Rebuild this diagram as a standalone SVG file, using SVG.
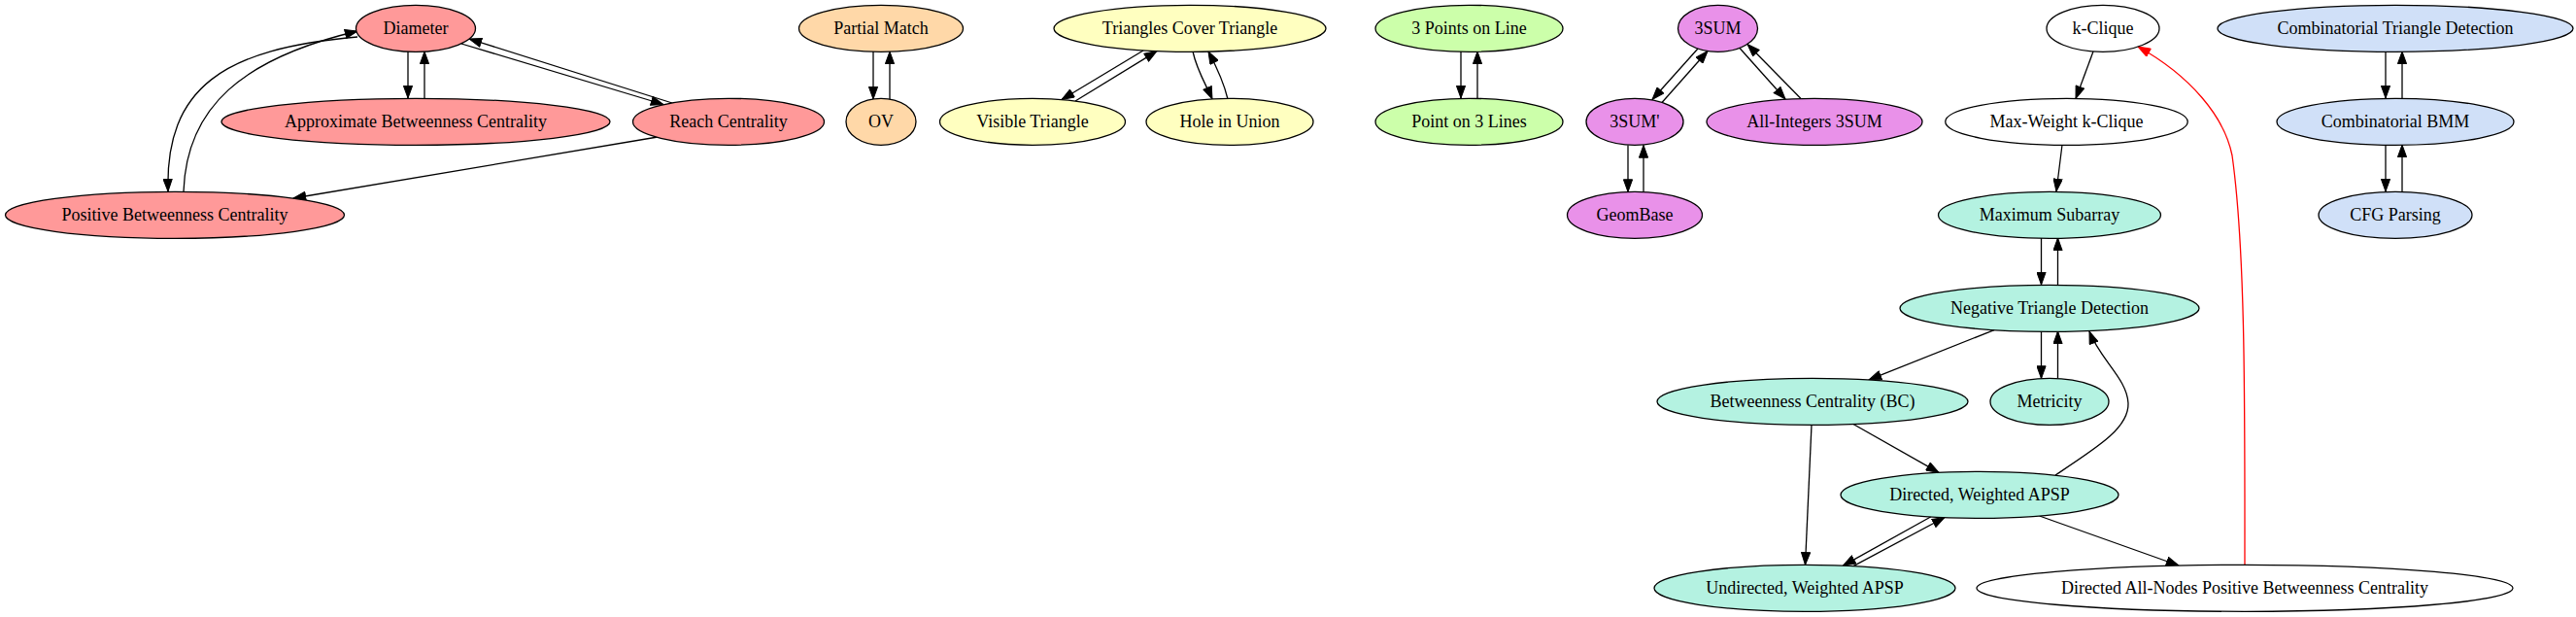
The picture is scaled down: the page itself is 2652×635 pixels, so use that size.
<svg xmlns="http://www.w3.org/2000/svg" width="2652" height="635" viewBox="0 0 2652 635">
<style>
  .n ellipse { stroke: #000; stroke-width: 1.3; }
  .n text { font-family: "Liberation Serif", "Times New Roman", serif; font-size: 18px; text-anchor: middle; fill: #000; }
  .red ellipse { fill: #FF9999; }
  .org ellipse { fill: #FFD8A8; }
  .yel ellipse { fill: #FFFFC0; }
  .grn ellipse { fill: #CCFFAA; }
  .pur ellipse { fill: #E991E9; }
  .wht ellipse { fill: #FFFFFF; }
  .tea ellipse { fill: #B4F2E1; }
  .blu ellipse { fill: #D0E0F8; }
  .e { fill: none; stroke: #000; stroke-width: 1.3; marker-end: url(#arr); }
  .e.r { stroke: #FF0000; marker-end: url(#arrR); }
</style>
<defs>
  <marker id="arr" markerUnits="userSpaceOnUse" viewBox="0 0 14 10" markerWidth="14" markerHeight="10" refX="13.3" refY="5" orient="auto">
    <path d="M0.6,0.4 L13.3,5 L0.6,9.6 Z" fill="#000" stroke="#000" stroke-width="1"/>
  </marker>
  <marker id="arrR" markerUnits="userSpaceOnUse" viewBox="0 0 14 10" markerWidth="14" markerHeight="10" refX="13.3" refY="5" orient="auto">
    <path d="M0.6,0.4 L13.3,5 L0.6,9.6 Z" fill="#FF0000" stroke="#FF0000" stroke-width="1"/>
  </marker>
</defs>
<rect width="2652" height="635" fill="#FFFFFF"/>

<g id="edges">
  <path class="e" d="M420,53 L420,101"/>
  <path class="e" d="M437,101 L437,53"/>
  <path class="e" d="M475,45 L683,107.5"/>
  <path class="e" d="M692,106 L483,40"/>
  <path class="e" d="M368,38 C230,50 170,90 173,197"/>
  <path class="e" d="M189,197 C192,110 250,60 368,32"/>
  <path class="e" d="M677,141 L302,204"/>

  <path class="e" d="M899,53 L899,102"/>
  <path class="e" d="M916,102 L916,53"/>

  <path class="e" d="M1177,52 L1093,102.5"/>
  <path class="e" d="M1107,104 L1191,52.6"/>
  <path class="e" d="M1228,53 C1232,72 1242,88 1248,102"/>
  <path class="e" d="M1264,102 C1260,85 1252,68 1244,53"/>

  <path class="e" d="M1504,53 L1504,101"/>
  <path class="e" d="M1521,101 L1521,53"/>

  <path class="e" d="M1748,50 L1701,102.5"/>
  <path class="e" d="M1711,105.5 L1758,52.5"/>
  <path class="e" d="M1791,49.5 L1838,102"/>
  <path class="e" d="M1854,101.5 L1799,45.5"/>
  <path class="e" d="M1676,149.5 L1676,197.5"/>
  <path class="e" d="M1692,197.5 L1692,149.5"/>

  <path class="e" d="M2155,53 L2137,101.4"/>
  <path class="e r" d="M2311,581 C2311,420 2312,260 2298,160 C2290,120 2255,78 2201,48"/>

  <path class="e" d="M2456,53 L2456,101"/>
  <path class="e" d="M2473,101 L2473,53"/>
  <path class="e" d="M2456,149 L2456,197"/>
  <path class="e" d="M2473,197 L2473,149"/>

  <path class="e" d="M2123,149 L2117,197"/>
  <path class="e" d="M2101.5,245 L2101.5,293"/>
  <path class="e" d="M2118.5,293 L2118.5,245"/>
  <path class="e" d="M2053,339.6 L1924,390.9"/>
  <path class="e" d="M2101.5,341 L2101.5,389.5"/>
  <path class="e" d="M2118.5,389.5 L2118.5,341"/>
  <path class="e" d="M2116,489 C2160,460 2192,440 2191,415 C2190,390 2162,370 2151,341"/>
  <path class="e" d="M1908,436.5 L1996,486.4"/>
  <path class="e" d="M1865,437.3 L1858.5,581.3"/>
  <path class="e" d="M1988,531.8 L1897.5,582.1"/>
  <path class="e" d="M1908,582.6 L2002,532.5"/>
  <path class="e" d="M2099.6,531 L2243,582"/>
</g>

<g id="diameter" class="n red"><ellipse cx="428" cy="29.3" rx="61.5" ry="24"/><text x="428" y="35.3">Diameter</text></g>
<g id="approx-bc" class="n red"><ellipse cx="428" cy="125.3" rx="200" ry="24"/><text x="428" y="131.3">Approximate Betweenness Centrality</text></g>
<g id="reach-centrality" class="n red"><ellipse cx="750" cy="125.3" rx="98.5" ry="24"/><text x="750" y="131.3">Reach Centrality</text></g>
<g id="positive-bc" class="n red"><ellipse cx="180" cy="221.3" rx="174.5" ry="24"/><text x="180" y="227.3">Positive Betweenness Centrality</text></g>

<g id="partial-match" class="n org"><ellipse cx="907" cy="29.3" rx="84.5" ry="24"/><text x="907" y="35.3">Partial Match</text></g>
<g id="ov" class="n org"><ellipse cx="907" cy="125.3" rx="36" ry="24"/><text x="907" y="131.3">OV</text></g>

<g id="triangles-cover-triangle" class="n yel"><ellipse cx="1225" cy="29.3" rx="140" ry="24"/><text x="1225" y="35.3">Triangles Cover Triangle</text></g>
<g id="visible-triangle" class="n yel"><ellipse cx="1063" cy="125.3" rx="95.5" ry="24"/><text x="1063" y="131.3">Visible Triangle</text></g>
<g id="hole-in-union" class="n yel"><ellipse cx="1266" cy="125.3" rx="86" ry="24"/><text x="1266" y="131.3">Hole in Union</text></g>

<g id="three-points-on-line" class="n grn"><ellipse cx="1512.5" cy="29.3" rx="96.5" ry="24"/><text x="1512.5" y="35.3">3 Points on Line</text></g>
<g id="point-on-three-lines" class="n grn"><ellipse cx="1512.5" cy="125.3" rx="96.5" ry="24"/><text x="1512.5" y="131.3">Point on 3 Lines</text></g>

<g id="threesum" class="n pur"><ellipse cx="1768.5" cy="29.3" rx="41" ry="24"/><text x="1768.5" y="35.3">3SUM</text></g>
<g id="threesum-prime" class="n pur"><ellipse cx="1683" cy="125.3" rx="50" ry="24"/><text x="1683" y="131.3">3SUM'</text></g>
<g id="all-integers-3sum" class="n pur"><ellipse cx="1868" cy="125.3" rx="111" ry="24"/><text x="1868" y="131.3">All-Integers 3SUM</text></g>
<g id="geombase" class="n pur"><ellipse cx="1683" cy="221.3" rx="69.5" ry="24"/><text x="1683" y="227.3">GeomBase</text></g>

<g id="k-clique" class="n wht"><ellipse cx="2165" cy="29.3" rx="58" ry="24"/><text x="2165" y="35.3">k-Clique</text></g>
<g id="max-weight-k-clique" class="n wht"><ellipse cx="2127.5" cy="125.3" rx="124.75" ry="24"/><text x="2127.5" y="131.3">Max-Weight k-Clique</text></g>

<g id="comb-triangle-detection" class="n blu"><ellipse cx="2466" cy="29.3" rx="183" ry="24"/><text x="2466" y="35.3">Combinatorial Triangle Detection</text></g>
<g id="comb-bmm" class="n blu"><ellipse cx="2466" cy="125.3" rx="122" ry="24"/><text x="2466" y="131.3">Combinatorial BMM</text></g>
<g id="cfg-parsing" class="n blu"><ellipse cx="2466" cy="221.3" rx="79" ry="24"/><text x="2466" y="227.3">CFG Parsing</text></g>

<g id="maximum-subarray" class="n tea"><ellipse cx="2110" cy="221.3" rx="114.5" ry="24"/><text x="2110" y="227.3">Maximum Subarray</text></g>
<g id="negative-triangle-detection" class="n tea"><ellipse cx="2110" cy="317.3" rx="154" ry="24"/><text x="2110" y="323.3">Negative Triangle Detection</text></g>
<g id="betweenness-centrality" class="n tea"><ellipse cx="1866" cy="413.3" rx="160" ry="24"/><text x="1866" y="419.3">Betweenness Centrality (BC)</text></g>
<g id="metricity" class="n tea"><ellipse cx="2110" cy="413.3" rx="61" ry="24"/><text x="2110" y="419.3">Metricity</text></g>
<g id="directed-weighted-apsp" class="n tea"><ellipse cx="2038" cy="509.3" rx="143" ry="24"/><text x="2038" y="515.3">Directed, Weighted APSP</text></g>
<g id="undirected-weighted-apsp" class="n tea"><ellipse cx="1858" cy="605.3" rx="155" ry="24"/><text x="1858" y="611.3">Undirected, Weighted APSP</text></g>
<g id="directed-all-nodes-pbc" class="n wht"><ellipse cx="2311" cy="605.3" rx="276" ry="24"/><text x="2311" y="611.3">Directed All-Nodes Positive Betweenness Centrality</text></g>
</svg>
